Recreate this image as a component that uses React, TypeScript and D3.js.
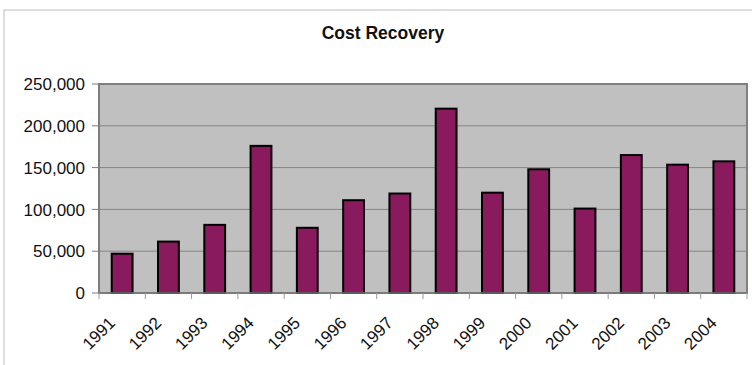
import React from "react";
import * as d3 from "d3";

const years = ["1991","1992","1993","1994","1995","1996","1997","1998","1999","2000","2001","2002","2003","2004"];
const costRecovery = [47000,61500,81500,176000,78000,111000,119000,220500,120000,148000,101000,165000,153500,157500];
const yTicks = [0,50000,100000,150000,200000,250000];
const title = "Cost Recovery";

export default function App() {
  const W = 752, H = 365;
  const left = 99, right = 747, top = 84, bottom = 293;
  const x = d3.scaleBand<string>().domain(years).range([left, right]).paddingInner(0.55).paddingOuter(0.275);
  const y = d3.scaleLinear().domain([0, 250000]).range([bottom, top]);
  const fmt = d3.format(",");
  const font = "Arial, 'Liberation Sans', sans-serif";
  const step = x.step();
  const boundaries = d3.range(years.length + 1).map(i => left + i * step);
  return (
    <svg width={W} height={H} style={{ position: "absolute", left: 0, top: 0, background: "#fff" }}>
      <rect x={4} y={10} width={W + 10} height={H + 10} fill="#fff" stroke="#c8c8c8" strokeWidth={1.2} />
      <text x={383} y={39} textAnchor="middle" fontFamily={font} fontWeight="bold" fontSize={17.5} fill="#111">{title}</text>
      <rect x={left} y={top} width={right - left} height={bottom - top} fill="#c0c0c0" stroke="#808080" strokeWidth={2} />
      {yTicks.filter(t => t > 0 && t < 250000).map(t => (
        <line key={"g" + t} x1={left} x2={right} y1={y(t)} y2={y(t)} stroke="#858585" strokeWidth={1} />
      ))}
      {years.map((yr, i) => (
        <rect key={yr} x={x(yr)} y={y(costRecovery[i])} width={x.bandwidth()} height={bottom - y(costRecovery[i])}
          fill="#8a1a5e" stroke="#000" strokeWidth={2} />
      ))}
      <line x1={left} x2={left} y1={top} y2={bottom} stroke="#7a7a7a" strokeWidth={1.5} />
      <line x1={left} x2={right} y1={bottom} y2={bottom} stroke="#7a7a7a" strokeWidth={1.5} />
      {yTicks.map(t => (
        <g key={"t" + t}>
          <line x1={left - 7} x2={left} y1={y(t)} y2={y(t)} stroke="#7a7a7a" strokeWidth={1} />
          <text x={85} y={y(t)} dy="0.36em" textAnchor="end" fontFamily={font} fontSize={17} fill="#111">{fmt(t)}</text>
        </g>
      ))}
      {boundaries.map((b, i) => (
        <line key={"b" + i} x1={b} x2={b} y1={bottom} y2={bottom + 6} stroke="#9a9a9a" strokeWidth={1} />
      ))}
      {years.map(yr => {
        const cx = (x(yr) as number) + x.bandwidth() / 2;
        return (
          <text key={"l" + yr} transform={`translate(${cx - 6},${324}) rotate(-45)`} textAnchor="end"
            fontFamily={font} fontSize={17} fill="#111">{yr}</text>
        );
      })}
    </svg>
  );
}
